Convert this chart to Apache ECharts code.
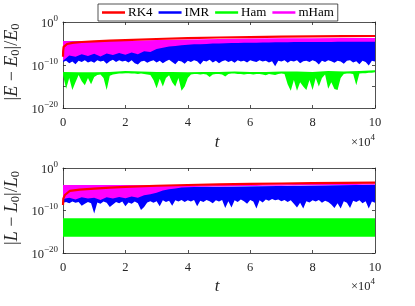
<!DOCTYPE html>
<html>
<head>
<meta charset="utf-8">
<script src="https://cdn.jsdelivr.net/npm/echarts@6/dist/echarts.min.js"></script>
<style>html,body{margin:0;padding:0;background:#fff}#c{width:415px;height:306px}</style>
</head>
<body>
<div id="c"></div>
<script>
// ---- data (values are log10 of the plotted quantity) ----
const xTicks = [0, 2, 4, 6, 8, 10];
const seriesNames = ['RK4', 'IMR', 'Ham', 'mHam'];
// sampling grids of time (x 10^4)
const tFine = Array.from({length: 101}, (_, i) => +(i / 10).toFixed(1));
const tMid = Array.from({length: 51}, (_, i) => +(i / 5).toFixed(1));

// ===== Panel 1 : |E - E0|/E0 =====
const rk4E_t   = [0, 0.005, 0.02, 0.06, 0.13, 0.3, 0.6, 1, 1.5, 2, 3, 4, 5, 6, 7, 8, 9, 10];
const rk4E_log = [-8.1, -6.8, -5.8, -5.35, -5.12, -4.85, -4.65, -4.5, -4.35, -4.2, -3.95, -3.75, -3.6, -3.5, -3.42, -3.36, -3.3, -3.26];

const imrE_hiT   = [0, 5, 10];
const imrE_hiLog = [-4.5, -4.5, -4.3];
const imrE_loLog = [
 -9.3,-9.0,-9.6,-9.2,-9.8,-9.0,-9.3,-8.9,-9.4,-9.1,
 -9.5,-8.9,-9.2,-9.0,-9.7,-9.1,-8.8,-9.3,-8.9,-9.2,
 -9.0,-9.4,-8.9,-9.6,-9.9,-9.2,-9.0,-9.5,-9.1,-8.9,
 -9.4,-9.0,-9.6,-9.1,-8.8,-9.3,-9.8,-9.0,-9.2,-9.7,
 -9.0,-9.3,-8.9,-9.1,-9.9,-9.0,-9.2,-8.8,-9.4,-9.0,
 -9.6,-9.1,-8.9,-9.3,-9.0,-9.5,-8.9,-9.2,-9.0,-9.4,
 -8.9,-9.1,-9.3,-8.9,-9.2,-9.0,-9.4,-9.1,-10.3,-9.0,
 -9.2,-8.9,-9.5,-9.0,-9.2,-8.9,-9.6,-9.1,-9.0,-9.3,
 -8.9,-9.2,-9.9,-9.0,-9.3,-8.9,-9.1,-9.5,-9.0,-9.2,
 -9.7,-9.0,-8.9,-9.4,-9.1,-9.8,-9.0,-9.3,-10.1,-9.0,-9.2];

const hamE_hiT   = [0,0.5,1,1.5,2,2.5,3,3.5,4,4.5,5,5.5,6,6.5,7,7.5,8,8.5,9,9.5,10];
const hamE_hiLog = [-11.6,-11.7,-11.7,-11.6,-11.4,-11.5,-11.6,-11.6,-11.7,-11.6,-11.6,-11.5,-11.6,-11.6,-11.5,-11.5,-11.6,-11.4,-11.5,-11.4,-11.2];
const hamE_loLog = [
 -12.3,-15.5,-13.0,-15.8,-14.0,-12.3,-13.8,-14.7,-13.0,-14.5,
 -12.8,-12.3,-12.2,-13.0,-15.8,-12.5,-12.2,-12.1,-12.0,-12.0,
 -11.9,-11.9,-12.0,-12.0,-12.1,-12.0,-12.1,-12.2,-12.3,-13.5,
 -15.4,-13.2,-15.0,-13.0,-12.4,-14.0,-15.0,-13.0,-16.0,-15.0,
 -13.0,-12.2,-12.1,-12.1,-12.2,-12.1,-12.2,-12.8,-12.2,-12.1,
 -12.1,-12.2,-12.7,-12.1,-12.0,-12.0,-12.1,-12.1,-12.2,-12.1,
 -12.1,-12.2,-12.1,-12.1,-12.2,-12.4,-12.1,-12.2,-12.3,-12.1,
 -12.0,-12.1,-14.5,-16.0,-13.5,-16.0,-14.0,-15.0,-15.8,-13.5,
 -15.8,-13.0,-15.0,-13.0,-12.2,-15.5,-14.0,-15.6,-15.8,-13.0,
 -12.1,-12.0,-12.0,-12.1,-14.7,-12.0,-11.9,-11.9,-11.8,-11.8,-11.7];

const mhamE_hiT   = [0, 1, 1.5, 2, 3, 4, 5, 6, 7, 8, 9, 10];
const mhamE_hiLog = [-4.4, -4.6, -4.5, -4.4, -4.2, -4.05, -3.95, -3.85, -3.8, -3.75, -3.72, -3.7];
const mhamE_loLog = [
 -9.0,-7.8,-8.1,-7.5,-7.9,-7.4,-8.0,-7.3,-7.7,-7.2,
 -7.6,-7.1,-7.5,-6.8,-7.0,-6.3,-6.0,-5.7,-5.6,-5.4,
 -5.3,-5.2,-5.15,-5.1,-5.0,-5.0,-4.95,-4.9,-4.9,-4.85,
 -4.8,-4.8,-4.75,-4.75,-4.7,-4.7,-4.7,-4.68,-4.68,-4.66,
 -4.66,-4.65,-4.64,-4.63,-4.62,-4.62,-4.61,-4.6,-4.6,-4.6,-4.6];

// ===== Panel 2 : |L - L0|/L0 =====
const rk4L_t   = [0, 0.01, 0.06, 0.22, 0.54, 1, 1.5, 2, 3, 4, 5, 6, 7, 8, 9, 10];
const rk4L_log = [-8.7, -7.2, -6.35, -5.4, -5.1, -4.85, -4.63, -4.45, -4.18, -4.0, -3.84, -3.75, -3.65, -3.57, -3.5, -3.46];

const imrL_hiT   = [0, 5, 10];
const imrL_hiLog = [-4.3, -4.4, -3.95];
const imrL_loLog = [
 -8.2,-8.0,-8.3,-7.9,-8.2,-8.0,-8.9,-8.4,-8.0,-8.3,
 -10.7,-8.1,-8.4,-7.9,-8.2,-9.2,-8.6,-8.0,-8.3,-7.9,
 -9.0,-8.1,-8.4,-7.9,-8.3,-9.9,-9.2,-8.1,-7.8,-8.2,
 -7.8,-9.0,-7.6,-8.0,-7.7,-8.9,-7.6,-7.9,-7.5,-8.0,
 -7.6,-7.9,-7.5,-9.0,-7.7,-8.0,-7.5,-7.8,-8.3,-7.6,
 -7.9,-7.5,-9.4,-7.8,-9.3,-7.6,-8.0,-7.4,-7.8,-8.4,
 -7.5,-7.9,-9.5,-7.6,-8.1,-7.4,-7.7,-7.3,-7.6,-7.4,
 -7.8,-7.5,-8.0,-7.6,-8.4,-9.3,-8.2,-9.5,-7.8,-8.1,
 -7.6,-7.9,-7.5,-8.2,-7.7,-8.0,-8.6,-9.4,-8.3,-9.5,
 -7.8,-8.2,-9.4,-7.7,-8.0,-7.6,-8.3,-7.8,-9.5,-7.9,-8.2];

const hamL_t     = [0, 10];
const hamL_hiLog = [-11.8, -11.8];
const hamL_loLog = [-16.2, -16.2];

const mhamL_hiT   = [0, 2, 3, 4, 5, 6, 7, 8, 9, 10];
const mhamL_hiLog = [-4.0, -4.0, -4.05, -4.1, -4.0, -3.9, -3.8, -3.72, -3.66, -3.62];
const mhamL_loLog = [
 -7.3,-7.0,-7.4,-6.9,-7.2,-7.0,-7.5,-6.9,-7.2,-6.8,
 -7.1,-6.7,-7.0,-6.4,-6.2,-5.8,-5.3,-5.0,-4.8,-4.6,
 -4.5,-4.45,-4.4,-4.4,-4.38,-4.35,-4.33,-4.3,-4.28,-4.26,
 -4.25,-4.22,-4.2,-4.18,-4.16,-4.15,-4.12,-4.1,-4.08,-4.06,
 -4.05,-4.04,-4.03,-4.02,-4.01,-4.0,-3.99,-3.98,-3.97,-3.96,-3.95];

// ---- chart ----
const SERIF = '"Liberation Serif","DejaVu Serif",serif';
const AX = '#262626';
const COLORS = {RK4: '#ff0000', IMR: '#0000ff', Ham: '#00ff00', mHam: '#ff00ff'};
const p10 = v => Math.pow(10, v);

function band(name, gi, tHi, hiLog, tLo, loLog, z) {
  const pts = [];
  for (let i = 0; i < tHi.length; i++) pts.push([tHi[i], p10(hiLog[i])]);
  for (let i = tLo.length - 1; i >= 0; i--) pts.push([tLo[i], p10(loLog[i])]);
  const color = COLORS[name];
  return {
    type: 'custom', name, xAxisIndex: gi * 2, yAxisIndex: gi * 2, z, silent: true,
    itemStyle: {color}, data: pts, encode: {x: 0, y: 1},
    renderItem(params, api) {
      if (params.dataIndex !== 0) return null;
      return {type: 'polygon', shape: {points: pts.map(p => api.coord(p))}, style: {fill: color}};
    }
  };
}
function line(name, gi, t, lg, z) {
  return {
    type: 'line', name, xAxisIndex: gi * 2, yAxisIndex: gi * 2, z, silent: true,
    showSymbol: false, symbol: 'none', color: COLORS[name],
    lineStyle: {width: 2.2, color: COLORS[name]},
    data: t.map((v, i) => [v, p10(lg[i])])
  };
}
function xAxes(gi) {
  const base = {type: 'value', gridIndex: gi, min: 0, max: 10, interval: 2,
    axisLine: {onZero: false, lineStyle: {color: AX, width: 0.8}},
    axisTick: {inside: true, length: 3, lineStyle: {color: AX, width: 0.8}},
    splitLine: {show: false}};
  return [
    Object.assign({}, base, {position: 'bottom',
      axisLabel: {fontFamily: SERIF, fontSize: 12.5, color: AX, margin: 8,
        formatter: v => xTicks.includes(v) ? String(v) : ''}}),
    Object.assign({}, base, {position: 'top', axisLabel: {show: false}})
  ];
}
function supLabel(v) {
  const e = Math.round(Math.log10(v));
  if (e % 10 !== 0) return '';
  return '{b|10}{s|' + (e < 0 ? '\u2212' + (-e) : e) + '}';
}
function yAxes(gi) {
  const base = {type: 'log', logBase: 10, gridIndex: gi, min: 1e-20, max: 1, interval: 5,
    axisLine: {onZero: false, lineStyle: {color: AX, width: 0.8}},
    axisTick: {inside: true, length: 3, lineStyle: {color: AX, width: 0.8}},
    splitLine: {show: false}, minorTick: {show: false}};
  return [
    Object.assign({}, base, {position: 'left',
      axisLabel: {color: AX, margin: 5, formatter: supLabel,
        rich: {b: {fontFamily: SERIF, fontSize: 12.5, color: AX, lineHeight: 16, verticalAlign: 'bottom'},
               s: {fontFamily: SERIF, fontSize: 9, color: AX, lineHeight: 10, verticalAlign: 'top'}}}}),
    Object.assign({}, base, {position: 'right', axisLabel: {show: false}})
  ];
}
function yName(txt, cy) {
  return {type: 'text', x: 12, y: cy, rotation: Math.PI / 2, z: 10,
    style: {text: '{r||}{e|' + txt + '}{r| \u2212 }{e|' + txt + '}{s|0}{r||/}{e|' + txt + '}{s|0}',
      align: 'center', verticalAlign: 'middle',
      rich: {r: {fontFamily: SERIF, fontSize: 18, lineHeight: 21, fill: AX, verticalAlign: 'middle'},
             e: {fontFamily: SERIF, fontStyle: 'italic', fontSize: 18, lineHeight: 21, fill: AX, verticalAlign: 'middle'},
             s: {fontFamily: SERIF, fontSize: 12.5, lineHeight: 12, fill: AX, verticalAlign: 'bottom'}}}};
}
function tLabel(cy) {
  return {type: 'text', x: 217, y: cy, z: 10,
    style: {text: 't', fontFamily: SERIF, fontStyle: 'italic', fontSize: 17, fill: AX, align: 'center', verticalAlign: 'middle'}};
}
function expLabel(cy) {
  return {type: 'text', x: 375, y: cy, z: 10,
    style: {text: '{b|\u00d710}{s|4}', align: 'right', verticalAlign: 'middle',
      rich: {b: {fontFamily: SERIF, fontSize: 12.5, lineHeight: 16, fill: AX, verticalAlign: 'bottom'},
             s: {fontFamily: SERIF, fontSize: 9, lineHeight: 10, fill: AX, verticalAlign: 'top'}}}};
}

const chart = echarts.init(document.getElementById('c'), null, {renderer: 'canvas'});
chart.setOption({
  animation: false,
  backgroundColor: '#fff',
  grid: [
    {left: 63, top: 22, width: 312, height: 86, containLabel: false},
    {left: 63, top: 168, width: 312, height: 85, containLabel: false}
  ],
  xAxis: [...xAxes(0), ...xAxes(1)],
  yAxis: [...yAxes(0), ...yAxes(1)],
  legend: {
    data: seriesNames, left: 98, top: 4, icon: 'rect', itemWidth: 23, itemHeight: 2.5, itemGap: 6,
    padding: [2, 4, 2, 4], borderColor: AX, borderWidth: 0.8, backgroundColor: '#fff',
    textStyle: {fontFamily: SERIF, fontSize: 13, color: '#000', padding: [0, 0, 0, -2]},
    selectedMode: false, z: 20
  },
  graphic: [yName('E', 62), yName('L', 208), tLabel(143), tLabel(287), expLabel(141), expLabel(285)],
  series: [
    line('RK4', 0, rk4E_t, rk4E_log, 6),
    band('IMR', 0, imrE_hiT, imrE_hiLog, tFine, imrE_loLog, 2),
    band('Ham', 0, hamE_hiT, hamE_hiLog, tFine, hamE_loLog, 2),
    band('mHam', 0, mhamE_hiT, mhamE_hiLog, tMid, mhamE_loLog, 3),
    line('RK4', 1, rk4L_t, rk4L_log, 6),
    band('IMR', 1, imrL_hiT, imrL_hiLog, tFine, imrL_loLog, 2),
    band('Ham', 1, hamL_t, hamL_hiLog, hamL_t, hamL_loLog, 2),
    band('mHam', 1, mhamL_hiT, mhamL_hiLog, tMid, mhamL_loLog, 3)
  ]
});
</script>
</body>
</html>
